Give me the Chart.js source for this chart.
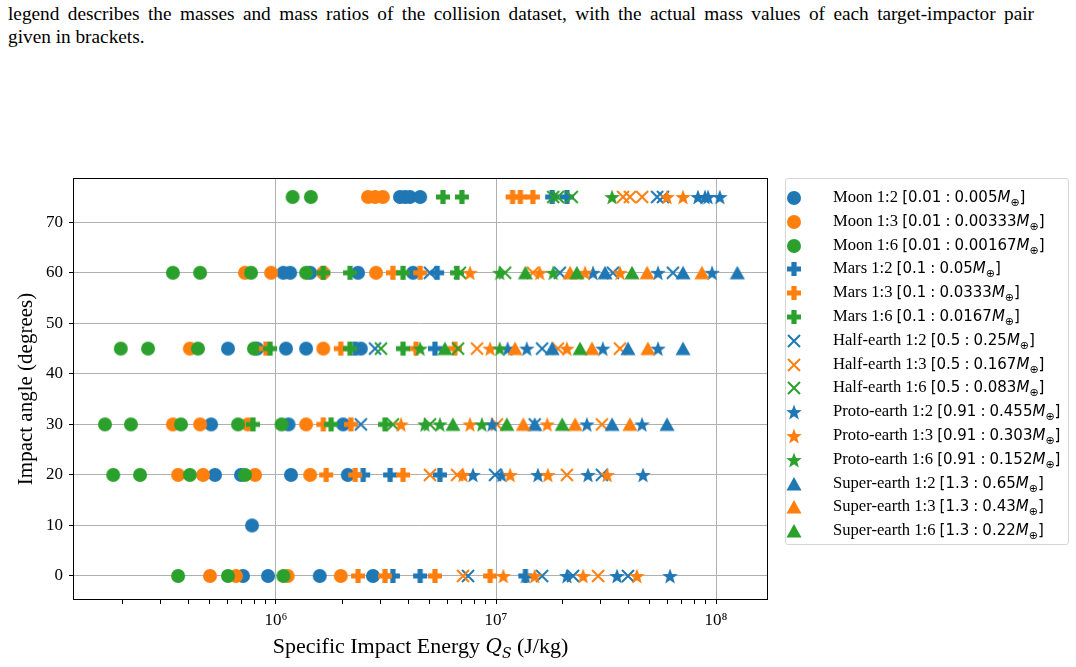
<!DOCTYPE html>
<html>
<head>
<meta charset="utf-8">
<script src="https://cdn.jsdelivr.net/npm/chart.js@4.4.0/dist/chart.umd.min.js"></script>
<style>
  body { margin: 0; background: #fff; width: 1076px; height: 667px; overflow: hidden; position: relative; font-family: 'Liberation Serif', 'Times New Roman', serif; color: #000; }
  #caption { position: absolute; left: 8px; top: 2px; font-size: 19.3px; line-height: 23px; }
  #caption .l1 { width: 1026px; text-align: justify; text-align-last: justify; white-space: nowrap; }
  #chart { position: absolute; left: 0; top: 0; }
  #xtitle { position: absolute; left: 73px; width: 695px; top: 633px; text-align: center; font-size: 22px; white-space: nowrap; }
  #xtitle i { font-family: 'DejaVu Serif', serif; font-size: 20px; }
  #xtitle sub { font-size: 14px; font-family: 'DejaVu Serif', serif; font-style: italic; }
  #legend { position: absolute; left: 785px; top: 178px; width: 284px; height: 367px; border: 1px solid #d6d6d6; border-radius: 3px; box-sizing: border-box; background: #fff; }
  .row { position: absolute; left: 0; height: 24px; width: 282px; }
  .row img { position: absolute; left: -1px; top: 3px; }
  .row span.t { position: absolute; left: 47px; top: 1px; font-size: 16.6px; white-space: nowrap; }
  .m { font-family: 'DejaVu Sans', sans-serif; font-size: 15px; }
  .m i { font-style: oblique; }
  .m sub { font-size: 11px; }
  .m .c { padding: 0 4px; }
</style>
</head>
<body>
<div id="caption"><div class="l1">legend describes the masses and mass ratios of the collision dataset, with the actual mass values of each target-impactor pair</div>given in brackets.</div>
<canvas id="chart" width="1076" height="667"></canvas>
<div id="xtitle">Specific Impact Energy <i>Q</i><sub>S</sub> (J/kg)</div>
<div id="legend"></div>
<script>
// [impact angle (deg), specific impact energy Qs (J/kg)]
const moon12 = [
  [75, 3.66e6], [75, 3.86e6], [75, 4.06e6], [75, 4.52e6],
  [60, 1.08e6], [60, 1.16e6], [60, 1.43e6], [60, 2.36e6], [60, 4.2e6],
  [45, 6.05e5], [45, 8.2e5], [45, 1.11e6], [45, 1.37e6], [45, 2.43e6],
  [30, 5.07e5], [30, 1.14e6], [30, 2.02e6],
  [20, 5.28e5], [20, 6.93e5], [20, 1.17e6], [20, 2.12e6],
  [10, 7.78e5],
  [0, 7.08e5], [0, 9.2e5], [0, 1.58e6], [0, 2.76e6]
];
const moon13 = [
  [75, 2.62e6], [75, 2.82e6], [75, 3.06e6],
  [60, 7.23e5], [60, 9.5e5], [60, 1.64e6], [60, 2.85e6],
  [45, 4.06e5], [45, 1.64e6],
  [30, 3.4e5], [30, 4.52e5], [30, 7.46e5], [30, 1.37e6],
  [20, 3.59e5], [20, 4.66e5], [20, 8.03e5], [20, 1.43e6],
  [0, 5.01e5], [0, 6.58e5], [0, 1.13e6], [0, 1.97e6]
];
const moon16 = [
  [75, 1.19e6], [75, 1.44e6],
  [60, 3.4e5], [60, 4.52e5], [60, 7.7e5], [60, 1.37e6],
  [45, 1.97e5], [45, 2.62e5], [45, 4.42e5], [45, 7.94e5],
  [30, 1.67e5], [30, 2.19e5], [30, 3.7e5], [30, 6.72e5], [30, 1.06e6],
  [20, 1.82e5], [20, 2.41e5], [20, 4.06e5], [20, 7.23e5],
  [0, 3.59e5], [0, 6.05e5], [0, 1.08e6]
];
const mars12 = [
  [75, 1.8e7], [75, 2.1e7],
  [60, 5.4e6],
  [45, 2.29e6], [45, 5.28e6],
  [20, 2.49e6], [20, 3.3e6], [20, 5.56e6],
  [0, 3.4e6], [0, 4.52e6], [0, 1.36e7]
];
const mars13 = [
  [75, 1.19e7], [75, 1.29e7], [75, 1.47e7],
  [60, 3.4e6], [60, 4.52e6],
  [45, 9.0e5], [45, 1.97e6], [45, 4.33e6], [45, 6.5e6],
  [30, 1.64e6], [30, 2.19e6],
  [20, 1.69e6], [20, 2.29e6], [20, 3.78e6],
  [0, 2.36e6], [0, 3.13e6], [0, 5.28e6], [0, 9.4e6]
];
const mars16 = [
  [75, 5.74e6], [75, 7.0e6],
  [60, 1.64e6], [60, 2.17e6], [60, 3.78e6], [60, 6.65e6],
  [45, 9.4e5], [45, 2.17e6], [45, 3.78e6],
  [30, 7.86e5], [30, 1.78e6], [30, 3.13e6]
];
const half12 = [
  [75, 5.4e7], [75, 5.74e7],
  [60, 5.01e6], [60, 1.95e7], [60, 3.4e7], [60, 6.37e7],
  [45, 2.82e6], [45, 1.62e7],
  [30, 2.43e6], [30, 1.5e7],
  [20, 9.9e6], [20, 3.03e7],
  [0, 7.46e6], [0, 1.62e7], [0, 2.24e7], [0, 3.98e7]
];
const half13 = [
  [75, 3.78e7], [75, 4.06e7], [75, 4.61e7],
  [60, 1.47e7],
  [45, 8.2e6], [45, 1.91e7], [45, 3.66e7],
  [30, 1.01e7], [30, 3.03e7],
  [20, 5.01e6], [20, 6.65e6], [20, 2.1e7],
  [0, 7.08e6], [0, 2.91e7]
];
const half16 = [
  [75, 1.82e7], [75, 1.91e7], [75, 2.21e7],
  [60, 6.86e6], [60, 1.1e7],
  [45, 3.0e6], [45, 6.72e6],
  [30, 3.4e6], [30, 5.01e6]
];
const proto12 = [
  [75, 8.28e7], [75, 8.91e7], [75, 9.2e7], [75, 1.04e8],
  [60, 2.76e7], [60, 5.45e7], [60, 9.6e7],
  [45, 1.13e7], [45, 1.38e7], [45, 3.06e7], [45, 5.45e7],
  [30, 9.6e6], [30, 2.59e7], [30, 4.61e7],
  [20, 7.86e6], [20, 1.06e7], [20, 1.55e7], [20, 2.62e7], [20, 4.66e7],
  [0, 1.36e7], [0, 2.1e7], [0, 3.55e7], [0, 6.18e7]
];
const proto13 = [
  [75, 5.99e7], [75, 7.08e7],
  [60, 7.62e6], [60, 1.58e7], [60, 2.54e7], [60, 3.66e7],
  [45, 9.4e6], [45, 2.1e7],
  [30, 3.7e6], [30, 7.62e6], [30, 1.71e7],
  [20, 7.08e6], [20, 1.16e7], [20, 1.72e7], [20, 3.2e7],
  [0, 1.08e7], [0, 1.5e7], [0, 2.49e7], [0, 4.37e7]
];
const proto16 = [
  [75, 3.37e7],
  [60, 1.04e7], [60, 1.82e7],
  [45, 4.52e6], [45, 1.04e7],
  [30, 4.75e6], [30, 5.56e6], [30, 8.63e6]
];
const super12 = [
  [60, 3.13e7], [60, 7.08e7], [60, 1.25e8],
  [45, 1.8e7], [45, 3.98e7], [45, 7.08e7],
  [30, 1.5e7], [30, 3.37e7], [30, 5.99e7]
];
const super13 = [
  [60, 2.17e7], [60, 4.86e7], [60, 8.63e7],
  [45, 1.22e7], [45, 2.73e7], [45, 4.9e7],
  [30, 1.33e7], [30, 2.29e7], [30, 4.06e7]
];
const super16 = [
  [60, 1.36e7], [60, 2.33e7], [60, 4.15e7],
  [45, 5.86e6], [45, 2.41e7],
  [30, 6.37e6], [30, 1.12e7], [30, 2.0e7]
];

const seriesNames = [
  'Moon 1:2', 'Moon 1:3', 'Moon 1:6',
  'Mars 1:2', 'Mars 1:3', 'Mars 1:6',
  'Half-earth 1:2', 'Half-earth 1:3', 'Half-earth 1:6',
  'Proto-earth 1:2', 'Proto-earth 1:3', 'Proto-earth 1:6',
  'Super-earth 1:2', 'Super-earth 1:3', 'Super-earth 1:6'
];
const targetMass = ['0.01', '0.01', '0.01', '0.1', '0.1', '0.1', '0.5', '0.5', '0.5', '0.91', '0.91', '0.91', '1.3', '1.3', '1.3'];
const impactorMass = ['0.005', '0.00333', '0.00167', '0.05', '0.0333', '0.0167', '0.25', '0.167', '0.083', '0.455', '0.303', '0.152', '0.65', '0.43', '0.22'];
const seriesData = [moon12, moon13, moon16, mars12, mars13, mars16, half12, half13, half16,
                    proto12, proto13, proto16, super12, super13, super16];
const yTicks = [0, 10, 20, 30, 40, 50, 60, 70];

const colors = ['#1f77b4', '#ff7f0e', '#2ca02c'];
const shapes = ['circle', 'plus', 'x', 'star', 'triangle'];

// matplotlib-like marker glyphs drawn on small canvases
function makeMarker(shape, color) {
  const c = document.createElement('canvas');
  c.width = 18; c.height = 18;
  const g = c.getContext('2d');
  g.translate(9, 9);
  g.fillStyle = color;
  g.strokeStyle = color;
  g.beginPath();
  if (shape === 'circle') {
    g.arc(0, 0, 7, 0, Math.PI * 2);
    g.fill();
  } else if (shape === 'plus') {
    const a = 7, b = 2.6;
    const pts = [[-b,-a],[b,-a],[b,-b],[a,-b],[a,b],[b,b],[b,a],[-b,a],[-b,b],[-a,b],[-a,-b],[-b,-b]];
    pts.forEach((p, i) => i ? g.lineTo(p[0], p[1]) : g.moveTo(p[0], p[1]));
    g.closePath();
    g.fill();
  } else if (shape === 'x') {
    g.lineWidth = 2;
    g.moveTo(-6, -6); g.lineTo(6, 6);
    g.moveTo(-6, 6); g.lineTo(6, -6);
    g.stroke();
  } else if (shape === 'star') {
    for (let i = 0; i < 10; i++) {
      const r = i % 2 ? 3.4 : 8.2;
      const ang = -Math.PI / 2 + i * Math.PI / 5;
      g.lineTo(r * Math.cos(ang), r * Math.sin(ang) + 0.8);
    }
    g.closePath();
    g.fill();
  } else if (shape === 'triangle') {
    g.moveTo(0, -7); g.lineTo(7.5, 6.5); g.lineTo(-7.5, 6.5);
    g.closePath();
    g.fill();
  }
  return c;
}

const markers = seriesNames.map((n, i) => makeMarker(shapes[Math.floor(i / 3)], colors[i % 3]));

const datasets = seriesData.map((arr, i) => ({
  label: seriesNames[i],
  data: arr.map(p => ({ x: p[1], y: p[0] })),
  pointStyle: markers[i],
  pointRadius: 7,
  pointHoverRadius: 7,
  order: seriesData.length - i   // later series drawn on top, as in the original
}));

const xMin = 1.195e5, xMax = 1.723e8;

const framePlugin = {
  id: 'frame',
  afterDraw(chart) {
    const a = chart.chartArea, c = chart.ctx;
    c.save();
    c.strokeStyle = '#000';
    c.lineWidth = 1;
    c.strokeRect(a.left + 0.5, a.top + 0.5, a.right - a.left - 1, a.bottom - a.top - 1);
    c.restore();
  }
};

const supers = { 5: '⁵', 6: '⁶', 7: '⁷', 8: '⁸' };

new Chart(document.getElementById('chart').getContext('2d'), {
  type: 'scatter',
  data: { datasets: datasets },
  plugins: [framePlugin],
  options: {
    responsive: false,
    animation: false,
    devicePixelRatio: 1,
    events: [],
    layout: { padding: { left: 0, top: 178, right: 308, bottom: 0 } },
    plugins: { legend: { display: false }, tooltip: { enabled: false } },
    scales: {
      x: {
        type: 'logarithmic',
        min: xMin,
        max: xMax,
        afterFit: s => { s.height = 67; },
        afterBuildTicks: s => {
          const t = [];
          for (let e = 5; e <= 8; e++) {
            for (let m = 1; m <= 9; m++) {
              const v = m * Math.pow(10, e);
              if (v >= xMin && v <= xMax) t.push({ value: v, major: m === 1 });
            }
          }
          s.ticks = t;
        },
        border: { display: false },
        grid: {
          color: ctx => (ctx.tick && ctx.tick.major) ? '#b0b0b0' : 'rgba(0,0,0,0)',
          tickColor: '#000',
          tickLength: 4,
          lineWidth: 1
        },
        ticks: {
          autoSkip: false,
          maxRotation: 0,
          padding: 6,
          color: '#000',
          font: { family: "'Liberation Serif', serif", size: 17 },
          callback: v => {
            const e = Math.log10(v);
            return Math.abs(e - Math.round(e)) < 1e-9 ? '10' + supers[Math.round(e)] : '';
          }
        }
      },
      y: {
        min: -4.75,
        max: 78.75,
        afterFit: s => { s.width = 73; },
        afterBuildTicks: s => { s.ticks = yTicks.map(v => ({ value: v })); },
        border: { display: false },
        grid: { color: '#b0b0b0', tickColor: '#000', tickLength: 4, lineWidth: 1 },
        ticks: {
          padding: 6,
          color: '#000',
          font: { family: "'Liberation Serif', serif", size: 17 }
        },
        title: {
          display: true,
          text: 'Impact angle (degrees)',
          color: '#000',
          font: { family: "'Liberation Serif', serif", size: 21 },
          padding: { top: 14, bottom: 0 }
        }
      }
    }
  }
});

// legend box built from the same series lists
const legend = document.getElementById('legend');
seriesNames.forEach((name, i) => {
  const row = document.createElement('div');
  row.className = 'row';
  row.style.top = (7 + i * 23.8) + 'px';
  const img = document.createElement('img');
  img.src = markers[i].toDataURL();
  row.appendChild(img);
  const t = document.createElement('span');
  t.className = 't';
  t.innerHTML = `${name} <span class="m">[${targetMass[i]}<span class="c">:</span>${impactorMass[i]}<i>M</i><sub>⊕</sub>]</span>`;
  row.appendChild(t);
  legend.appendChild(row);
});
</script>
</body>
</html>
